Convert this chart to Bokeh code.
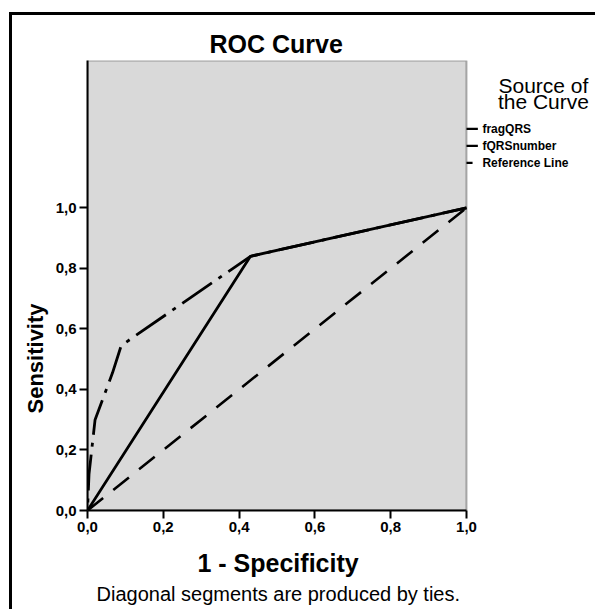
from bokeh.plotting import figure
from bokeh.models import (Range1d, FixedTicker, CustomJSTickFormatter, Title, Label,
                          BoxAnnotation)
from bokeh.embed import file_html
from bokeh.resources import INLINE

# data
frag_x = [0.0, 0.43, 1.0]
frag_y = [0.0, 0.84, 1.0]
fqrs_x = [0.0, 0.004, 0.02, 0.066, 0.089, 0.43, 1.0]
fqrs_y = [0.0, 0.12, 0.30, 0.455, 0.545, 0.84, 1.0]
ref_x = [0.0, 1.0]
ref_y = [0.0, 1.0]
ticks = [0.0, 0.2, 0.4, 0.6, 0.8, 1.0]
legend_names = ["fragQRS", "fQRSnumber", "Reference Line"]
legend_title = ["Source of", "the Curve"]

FONT = "Liberation Sans"
X_END = 1.3483   # frame extends past 1.0 to hold the legend
Y_END = 1.487

p = figure(width=586, height=597, output_backend="svg", toolbar_location=None,
           x_range=Range1d(0, X_END), y_range=Range1d(0, Y_END),
           min_border_left=75, min_border_right=0, min_border_top=45, min_border_bottom=102)
p.title.text = "ROC Curve"
p.title.align = "left"
p.title.offset = 122
p.title.text_font = FONT
p.title.text_font_size = "25px"
p.title.text_font_style = "bold"
p.title.text_color = "black"
p.title.standoff = 5

p.background_fill_color = "white"
p.border_fill_color = "white"
p.outline_line_color = None
p.grid.visible = False

# plot area box (gray, black border) from 0 to 1 on x
p.add_layout(BoxAnnotation(left=0, right=1.0, bottom=0, top=Y_END,
                           fill_color="#d9d9d9", fill_alpha=1.0,
                           line_color="black", line_width=2, level="underlay"))

fmt = CustomJSTickFormatter(code="return tick.toFixed(1).replace('.', ',');")
for ax in (p.xaxis[0], p.yaxis[0]):
    ax.ticker = FixedTicker(ticks=ticks)
    ax.formatter = fmt
    ax.axis_line_width = 2
    ax.axis_line_color = "black"
    ax.major_tick_line_width = 2
    ax.major_tick_line_color = "black"
    ax.major_tick_out = 8
    ax.major_tick_in = 0
    ax.minor_tick_line_color = None
    ax.major_label_text_font = FONT
    ax.major_label_text_font_style = "bold"
    ax.major_label_text_font_size = "15px"
    ax.major_label_text_color = "black"
    ax.major_label_standoff = 3
p.xaxis[0].bounds = (0, 1.0)

xlab = Title(text="1 - Specificity", align="left", offset=110,
             text_font=FONT, text_font_size="25px", text_font_style="bold",
             text_color="black", standoff=24)
p.add_layout(xlab, "below")

foot = Title(text="Diagonal segments are produced by ties.", align="left", offset=9,
             text_font=FONT, text_font_size="20px", text_font_style="normal",
             text_color="black", standoff=-16)
p.add_layout(foot, "below")

ylab = Title(text="Sensitivity", align="left", offset=97,
             text_font=FONT, text_font_size="22px", text_font_style="bold",
             text_color="black", standoff=10)
p.add_layout(ylab, "left")

p.line(ref_x, ref_y, line_color="black", line_width=2.6, line_dash="20 13")
p.line(frag_x, frag_y, line_color="black", line_width=2.8)
p.line(fqrs_x, fqrs_y, line_color="black", line_width=2.8, line_dash="36 8 4 8",
       line_dash_offset=36)

# legend drawn inside the extended frame
leg_y = [1.261, 1.205, 1.149]
leg_x0 = [1.0, 1.0, 1.0]
leg_x1 = [1.03, 1.03, 1.016]
p.segment(x0=leg_x0, y0=leg_y, x1=leg_x1, y1=leg_y, line_color="black", line_width=2.2)
for name, yy in zip(legend_names, leg_y):
    p.add_layout(Label(x=1.042, y=yy, text=name, text_font=FONT, text_font_size="12px",
                       text_font_style="bold", text_color="black",
                       text_align="left", text_baseline="middle"))
for t, yy in zip(legend_title, [1.406, 1.35]):
    p.add_layout(Label(x=1.203, y=yy, text=t, text_font=FONT, text_font_size="21px",
                       text_font_style="normal", text_color="black",
                       text_align="center", text_baseline="middle"))

p.styles = {"border-top": "3px solid black", "border-left": "3px solid black",
            "margin-top": "12px", "margin-left": "9px"}

open("out.html", "w").write(file_html(p, INLINE))
